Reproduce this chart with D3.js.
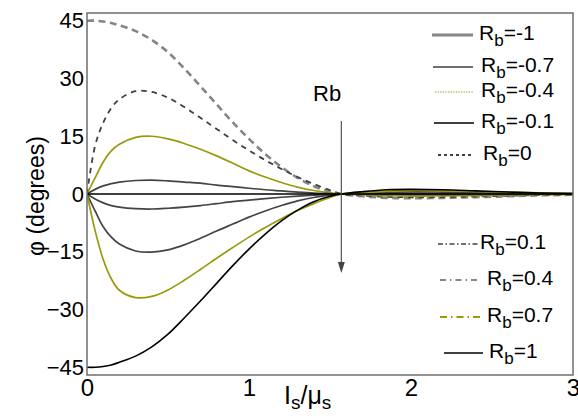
<!DOCTYPE html>
<html>
<head>
<meta charset="utf-8">
<script src="https://cdn.jsdelivr.net/npm/d3@7"></script>
<style>
  html, body { margin: 0; padding: 0; background: #fff; }
  svg { display: block; font-family: Arial, "Liberation Sans", sans-serif; }
</style>
</head>
<body>
<svg id="chart" width="578" height="416"></svg>
<script>
// ---- data ----
const xValues = [0, 0.05, 0.1, 0.15, 0.2, 0.3, 0.4, 0.5, 0.6, 0.7, 0.8, 0.9, 1.0, 1.1, 1.2, 1.3, 1.4, 1.5, 1.57, 1.7, 1.85, 2.0, 2.2, 2.4, 2.6, 2.8, 3.0];
const phiM1  = [45, 45, 44.8, 44.4, 43.8, 42.3, 40.0, 36.8, 32.6, 28.0, 23.3, 18.6, 14.3, 10.4, 7.0, 4.2, 2.0, 0.6, 0, -0.6, -1.0, -1.1, -1.0, -0.8, -0.6, -0.35, -0.2];
const phiM07 = [0, 12.5, 18.5, 22.3, 24.6, 26.7, 26.5, 25.0, 22.6, 19.8, 16.9, 14.0, 11.3, 8.8, 6.5, 4.4, 2.6, 1.0, 0, -0.4, -0.75, -0.85, -0.8, -0.65, -0.45, -0.28, -0.15];
const phiM04 = [0, 4.2, 8.3, 11.2, 12.9, 14.7, 15.0, 14.3, 13.1, 11.6, 9.9, 8.0, 6.0, 4.4, 3.0, 1.8, 0.9, 0.3, 0, -0.2, -0.45, -0.55, -0.5, -0.4, -0.3, -0.2, -0.1];
const phiM01 = [0, 1.2, 2.1, 2.7, 3.1, 3.5, 3.6, 3.4, 3.1, 2.8, 2.3, 1.9, 1.5, 1.1, 0.8, 0.5, 0.25, 0.1, 0, -0.05, -0.1, -0.15, -0.15, -0.12, -0.1, -0.06, -0.03];
const phi0   = [0, 0, 0, 0, 0, 0, 0, 0, 0, 0, 0, 0, 0, 0, 0, 0, 0, 0, 0, 0, 0, 0, 0, 0, 0, 0, 0];
const phiP01 = [0, -1.3, -2.3, -3.0, -3.4, -3.8, -3.9, -3.7, -3.4, -3.0, -2.5, -2.0, -1.6, -1.2, -0.85, -0.55, -0.3, -0.1, 0, 0.05, 0.1, 0.15, 0.15, 0.12, 0.1, 0.06, 0.03];
const phiP04 = [0, -4.4, -8.5, -11.2, -13.0, -14.8, -15.1, -14.5, -13.2, -11.5, -9.6, -7.8, -6.0, -4.4, -3.0, -1.8, -0.9, -0.3, 0, 0.2, 0.45, 0.55, 0.5, 0.4, 0.3, 0.2, 0.1];
const phiP07 = [0, -9.5, -17, -22, -25, -26.9, -26.6, -24.9, -22.4, -19.6, -16.7, -13.9, -11.2, -8.7, -6.4, -4.3, -2.5, -0.9, 0, 0.35, 0.75, 0.9, 0.85, 0.7, 0.5, 0.3, 0.15];
const phiP1  = [-45, -45, -44.8, -44.4, -43.7, -42.1, -39.7, -36.4, -32.2, -27.8, -23.2, -18.6, -14.3, -10.4, -7.0, -4.2, -2.0, -0.6, 0, 0.6, 1.1, 1.2, 1.1, 0.8, 0.5, 0.25, 0.1];

const seriesValues = [phiM1, phiM07, phiM04, phiM01, phi0, phiP01, phiP04, phiP07, phiP1];
const legendNames = ["-1", "-0.7", "-0.4", "-0.1", "0", "0.1", "0.4", "0.7", "1"];
const yTicks = [-45, -30, -15, 0, 15, 30, 45];
const xTicks = [0, 1, 2, 3];

// ---- styles ----
const OLIVE = "#9a9a0a";
const curveStyles = [
  { stroke: "#858585", width: 2.6, dash: "7,4.5" },
  { stroke: "#404040", width: 1.8, dash: "5.5,5" },
  { stroke: OLIVE, width: 1.7, dash: null },
  { stroke: "#444444", width: 1.7, dash: null },
  { stroke: "#000000", width: 1.6, dash: null },
  { stroke: "#444444", width: 1.7, dash: null },
  { stroke: "#444444", width: 1.7, dash: null },
  { stroke: OLIVE, width: 1.7, dash: null },
  { stroke: "#000000", width: 1.6, dash: null }
];
const legendStyles = [
  { stroke: "#858585", width: 3, dash: null },
  { stroke: "#404040", width: 1.4, dash: null },
  { stroke: OLIVE, width: 1, dash: "1.3,1.3" },
  { stroke: "#404040", width: 2, dash: null },
  { stroke: "#000000", width: 1.4, dash: "3,3" },
  { stroke: "#404040", width: 1.3, dash: "5,2.5,1.5,2.5" },
  { stroke: "#606060", width: 1.3, dash: "6,4,1.5,4" },
  { stroke: OLIVE, width: 1.8, dash: "7,4,1.5,4" },
  { stroke: "#000000", width: 1.5, dash: null }
];
const legendPos = [
  { x1: 432, x2: 473, y: 35, tx: 479 },
  { x1: 433, x2: 473, y: 67, tx: 481 },
  { x1: 435, x2: 473, y: 92, tx: 481 },
  { x1: 434, x2: 474, y: 123, tx: 481 },
  { x1: 438, x2: 471, y: 155, tx: 483 },
  { x1: 438, x2: 479, y: 244, tx: 480 },
  { x1: 440, x2: 480, y: 280, tx: 487 },
  { x1: 440, x2: 480, y: 317, tx: 487 },
  { x1: 444, x2: 483, y: 353, tx: 489 }
];

const svg = d3.select("#chart");
const L = 87, R = 573, T = 13, B = 375;

const x = d3.scaleLinear().domain([0, 3]).range([L, R]);
const y = d3.scaleLinear().domain([-47, 47]).range([B, T]);

svg.append("defs").append("clipPath").attr("id", "plotClip")
  .append("rect").attr("x", L).attr("y", T).attr("width", R - L).attr("height", B - T);

const line = d3.line()
  .x((d, i) => x(xValues[i]))
  .y(d => y(d))
  .curve(d3.curveCatmullRom.alpha(0.5));

const g = svg.append("g").attr("clip-path", "url(#plotClip)");
const order = [0, 1, 2, 3, 5, 6, 7, 8, 4];
order.forEach(k => {
  const st = curveStyles[k];
  g.append("path")
    .datum(seriesValues[k])
    .attr("d", line)
    .attr("fill", "none")
    .attr("stroke", st.stroke)
    .attr("stroke-width", st.width)
    .attr("stroke-dasharray", st.dash)
    .attr("stroke-linejoin", "round");
});

// frame
svg.append("rect")
  .attr("x", L).attr("y", T).attr("width", R - L).attr("height", B - T)
  .attr("fill", "none").attr("stroke", "#6e6e6e").attr("stroke-width", 1.5);

// y tick labels
const yAxis = d3.axisLeft(y).tickValues(yTicks).tickSize(0).tickPadding(3).tickFormat(d3.format("d"));
const ya = svg.append("g").attr("transform", `translate(${L},0)`).call(yAxis);
ya.select(".domain").remove();
ya.selectAll("text").attr("font-size", 22).attr("fill", "#000")
  .attr("font-family", 'Arial, "Liberation Sans", sans-serif');

// x tick labels
const xAxis = d3.axisBottom(x).tickValues(xTicks).tickSize(0).tickPadding(4).tickFormat(d3.format("d"));
const xa = svg.append("g").attr("transform", `translate(0,${B})`).call(xAxis);
xa.select(".domain").remove();
xa.selectAll("text").attr("font-size", 24).attr("fill", "#000")
  .attr("font-family", 'Arial, "Liberation Sans", sans-serif');

// axis titles
svg.append("text")
  .attr("transform", "translate(44,196) rotate(-90)")
  .attr("text-anchor", "middle")
  .attr("font-size", 23)
  .text("\u03c6 (degrees)");

const xt = svg.append("text").attr("x", 284).attr("y", 404).attr("font-size", 25);
xt.append("tspan").text("I");
xt.append("tspan").attr("font-size", 19).attr("dy", 5).text("s");
xt.append("tspan").attr("dy", -5).text("/\u03bc");
xt.append("tspan").attr("font-size", 19).attr("dy", 5).text("s");

// Rb arrow annotation
svg.append("text").attr("x", 313).attr("y", 101).attr("font-size", 22).text("Rb");
svg.append("line")
  .attr("x1", x(1.57)).attr("x2", x(1.57)).attr("y1", 121).attr("y2", 264)
  .attr("stroke", "#555").attr("stroke-width", 1.2);
svg.append("path")
  .attr("d", `M${x(1.57) - 3.5},${262} L${x(1.57) + 3.5},${262} L${x(1.57)},${273} Z`)
  .attr("fill", "#444");

// legend
legendNames.forEach((name, k) => {
  const p = legendPos[k], st = legendStyles[k];
  svg.append("line")
    .attr("x1", p.x1).attr("x2", p.x2).attr("y1", p.y).attr("y2", p.y)
    .attr("stroke", st.stroke).attr("stroke-width", st.width)
    .attr("stroke-dasharray", st.dash);
  const t = svg.append("text").attr("x", p.tx).attr("y", p.y + 5).attr("font-size", 21);
  t.append("tspan").text("R");
  t.append("tspan").attr("font-size", 17).attr("dy", 6).text("b");
  t.append("tspan").attr("dy", -6).text("=" + name);
});
</script>
</body>
</html>
